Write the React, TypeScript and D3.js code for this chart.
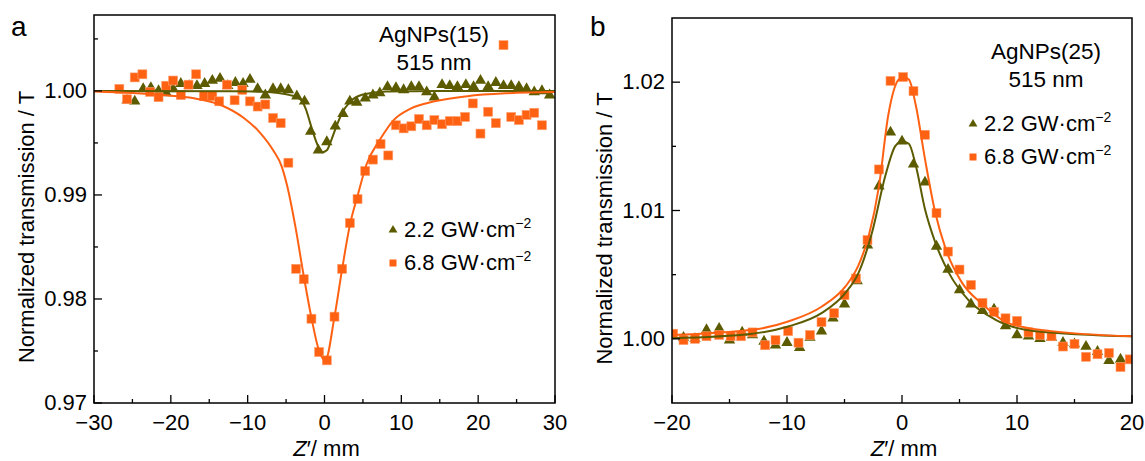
import React from "react";
import * as d3 from "d3";

const OLIVE = "#5c5b00";
const ORANGE = "#ff6112";
const FONT = "'Liberation Sans', Arial, sans-serif";

// ---- panel a : AgNPs(15), 515 nm ----
const a22: [number, number][] = [
  [-25.7, 0.9991], [-24.7, 0.999], [-23.6, 1.0002], [-22.6, 1.0003], [-21.6, 1.0], [-20.6, 0.9998],
  [-19.7, 1.0002], [-18.7, 1.0007], [-17.6, 1.0005], [-16.6, 1.0005], [-15.6, 1.0007], [-14.6, 1.001],
  [-13.6, 1.0012], [-12.6, 1.0005], [-11.6, 1.0008], [-10.6, 1.0007], [-9.7, 1.0011], [-8.7, 1.0002],
  [-7.7, 0.9996], [-6.7, 1.0002], [-5.7, 1.0002], [-4.7, 1.0001], [-3.6, 0.9995], [-2.6, 0.999],
  [-1.8, 0.9961], [-0.8, 0.9943], [0.3, 0.9951], [1.4, 0.9966], [2.4, 0.9978], [3.3, 0.999],
  [4.2, 0.9989], [5.3, 0.9993], [6.3, 0.9996], [7.2, 0.9998], [8.2, 1.0004], [9.3, 1.0003],
  [10.3, 1.0001], [11.3, 1.0004], [12.3, 1.0004], [13.3, 0.9999], [14.3, 0.9994], [15.3, 1.0006],
  [16.3, 1.0005], [17.3, 1.0004], [18.4, 1.0006], [19.4, 1.0004], [20.3, 1.001], [21.3, 1.0004],
  [22.3, 1.0008], [23.3, 1.0005], [24.3, 1.0005], [25.3, 1.0004], [26.3, 1.0002], [27.3, 0.9999],
  [28.3, 1.0], [29.3, 0.9996],
];
const a68: [number, number][] = [
  [-26.7, 1.0002], [-25.7, 0.9992], [-24.7, 1.0013], [-23.7, 1.0016], [-22.7, 0.9999], [-21.6, 0.9994],
  [-20.6, 1.0005], [-19.7, 1.001], [-18.7, 0.9996], [-17.7, 1.0006], [-16.7, 1.0016], [-15.7, 0.9995],
  [-14.6, 0.9995], [-13.7, 0.999], [-12.7, 1.0006], [-11.7, 0.9991], [-10.7, 1.0001], [-9.7, 0.999],
  [-8.7, 0.9985], [-7.7, 0.9987], [-6.7, 0.9974], [-5.7, 0.9969], [-4.7, 0.9931], [-3.7, 0.9829],
  [-2.7, 0.9819], [-1.7, 0.9781], [-0.7, 0.9749], [0.3, 0.9741], [1.3, 0.9783], [2.3, 0.9829],
  [3.3, 0.9873], [4.3, 0.9896], [5.3, 0.9923], [6.3, 0.9934], [7.3, 0.9949], [8.3, 0.9938],
  [9.3, 0.9967], [10.3, 0.9964], [11.3, 0.9966], [12.3, 0.9973], [13.3, 0.9967], [14.3, 0.9972],
  [15.3, 0.9968], [16.3, 0.9971], [17.3, 0.9971], [18.3, 0.9975], [19.3, 0.9988], [20.3, 0.9959],
  [21.3, 0.998], [22.3, 0.9969], [23.3, 1.0044], [24.3, 0.9975], [25.3, 0.9972], [26.3, 0.9977],
  [27.3, 0.9979], [28.3, 0.9967],
];
const a22Fit: [number, number][] = [
  [-30, 1.0], [-12, 0.99998], [-8, 0.99992], [-6, 0.9998], [-4.5, 0.9996], [-3.6, 0.9994],
  [-2.9, 0.999], [-2.4, 0.9982], [-1.9, 0.997], [-1.4, 0.9958], [-0.9, 0.9948], [-0.3, 0.9941],
  [0.3, 0.9943], [0.9, 0.9953], [1.5, 0.9965], [2.3, 0.9979], [3.4, 0.999], [5, 0.99965],
  [8, 0.99995], [15, 1.0], [30, 1.0],
];
const a68Fit: [number, number][] = [
  [-30, 0.99995], [-25, 0.9998], [-21, 0.9996], [-17, 0.9993], [-13.5, 0.99865], [-10.5, 0.9974],
  [-8.4, 0.996], [-6.6, 0.9942], [-5.6, 0.9928], [-4.9, 0.991], [-3.8, 0.987], [-2.7, 0.9822],
  [-1.7, 0.9782], [-0.7, 0.975], [0.1, 0.9741], [1.3, 0.9783], [2.3, 0.9829], [3.3, 0.9871],
  [4.3, 0.9899], [5.5, 0.993], [7.2, 0.9953], [9.0, 0.9972], [11.2, 0.9983], [14.3, 0.999],
  [18.6, 0.9995], [23.8, 0.99978], [30, 0.9999],
];

// ---- panel b : AgNPs(25), 515 nm ----
const b22: [number, number][] = [
  [-19.0, 1.0001], [-18.0, 1.0], [-17.0, 1.0007], [-15.9, 1.0008], [-15.0, 0.9999], [-13.9, 1.0005],
  [-13.0, 1.0003], [-12.0, 0.9998], [-11.0, 0.9995], [-10.0, 0.9997], [-8.9, 0.9993], [-8.0, 1.0001],
  [-7.0, 1.0006], [-6.0, 1.0016], [-5.0, 1.0027], [-3.9, 1.0045], [-3.0, 1.0073], [-2.0, 1.0119],
  [-1.0, 1.0161], [0.0, 1.0154], [1.0, 1.0136], [2.0, 1.0122], [3.0, 1.0072], [4.0, 1.0054],
  [5.0, 1.0038], [6.0, 1.0027], [7.0, 1.0022], [8.0, 1.0023], [9.0, 1.001], [10.0, 1.0003],
  [11.0, 1.0002], [12.0, 1.0], [13.0, 1.0001], [14.0, 0.9997], [15.0, 0.9996], [16.0, 0.9994],
  [17.0, 0.999], [18.0, 0.9983], [19.0, 0.9984],
];
const b68: [number, number][] = [
  [-19.9, 1.0004], [-19.0, 0.9999], [-18.0, 1.0], [-17.0, 1.0002], [-15.9, 1.0003], [-14.9, 1.0002],
  [-14.0, 1.0002], [-13.0, 1.0005], [-11.9, 0.9995], [-11.0, 0.9999], [-9.9, 1.0006], [-9.0, 0.9997],
  [-8.0, 1.0003], [-7.0, 1.0013], [-5.9, 1.002], [-5.0, 1.0034], [-4.0, 1.0047], [-3.0, 1.0077],
  [-2.0, 1.0132], [-1.0, 1.0201], [0.1, 1.0204], [1.0, 1.0193], [2.0, 1.0159], [3.0, 1.0098],
  [4.0, 1.0068], [5.0, 1.0054], [6.0, 1.0042], [7.0, 1.0028], [8.0, 1.0021], [9.0, 1.0016],
  [10.0, 1.0014], [11.0, 1.0005], [12.0, 1.0003], [13.0, 1.0002], [14.0, 0.9994], [15.0, 0.9996],
  [16.0, 0.9986], [17.0, 0.9988], [18.0, 0.9989], [19.0, 0.9978], [19.8, 0.9984],
];
const b22Fit: [number, number][] = [
  [-20, 1.00005], [-13, 1.0004], [-9.9, 1.00096], [-7, 1.002], [-4.9, 1.0036], [-3.8, 1.0051],
  [-2.6, 1.0083], [-1.45, 1.0127], [-0.6, 1.015], [0, 1.0154], [0.6, 1.0152], [1.2, 1.0135],
  [2.0, 1.0101], [2.9, 1.0075], [4.1, 1.0051], [5.8, 1.003], [8.1, 1.0015], [11.6, 1.0006], [20, 1.0002],
];
const b68Fit: [number, number][] = [
  [-20, 1.0003], [-13, 1.0007], [-9.9, 1.00135], [-7, 1.0025], [-4.9, 1.0041], [-3.8, 1.0057],
  [-2.9, 1.008], [-2.0, 1.0119], [-1.2, 1.0174], [-0.3, 1.0202], [0.1, 1.0204], [0.6, 1.0202],
  [1.2, 1.0182], [2.0, 1.014], [2.9, 1.0098], [3.8, 1.007], [5.2, 1.0044], [7.0, 1.0027],
  [9.3, 1.0012], [13, 1.0006], [20, 1.0002],
];

const aXMajor = [-30, -20, -10, 0, 10, 20, 30];
const aXMinor = [-25, -15, -5, 5, 15, 25];
const aYMajor = [0.97, 0.98, 0.99, 1.0];
const aYMinor = [0.975, 0.985, 0.995, 1.005];
const bXMajor = [-20, -10, 0, 10, 20];
const bXMinor = [-15, -5, 5, 15];
const bYMajor = [1.0, 1.01, 1.02];
const bYMinor = [1.005, 1.015];

const legendLabels = ["2.2 GW\u00b7cm", "6.8 GW\u00b7cm"];

const fmtX = (v: number) => (v < 0 ? "\u2212" + Math.abs(v) : String(v));

type PanelProps = {
  letter: string;
  letterX: number;
  x: d3.ScaleLinear<number, number>;
  y: d3.ScaleLinear<number, number>;
  xMajor: number[];
  xMinor: number[];
  yMajor: number[];
  yMinor: number[];
  tri: [number, number][];
  sq: [number, number][];
  triFit: [number, number][];
  sqFit: [number, number][];
  title: string;
  titleX: number;
  titleY: number;
  legX: number;
  legY: number;
};

function Panel(p: PanelProps) {
  const [x0, x1] = p.x.range();
  const [y0, y1] = p.y.range();
  const tri = d3.symbol().type(d3.symbolTriangle).size(56)()!;
  const triSmall = d3.symbol().type(d3.symbolTriangle).size(34)()!;
  const line = d3
    .line<[number, number]>()
    .x((d) => p.x(d[0]))
    .y((d) => p.y(d[1]))
    .curve(d3.curveMonotoneX);
  const sqS = 9;
  return (
    <g fontFamily={FONT} fill="#000">
      <text x={p.letterX} y={36} fontSize={28}>{p.letter}</text>
      <clipPath id={"clip" + p.letter}>
        <rect x={x0} y={y1} width={x1 - x0} height={y0 - y1} />
      </clipPath>
      <g clipPath={`url(#clip${p.letter})`}>
        {p.tri.map((d, i) => (
          <path key={"t" + i} d={tri} transform={`translate(${p.x(d[0])},${p.y(d[1])})`} fill={OLIVE} />
        ))}
        {p.sq.map((d, i) => (
          <rect key={"s" + i} x={p.x(d[0]) - sqS / 2} y={p.y(d[1]) - sqS / 2} width={sqS} height={sqS}
            fill={ORANGE} stroke="#ffa070" strokeWidth={0.6} />
        ))}
        <path d={line(p.triFit)!} fill="none" stroke={OLIVE} strokeWidth={2} />
        <path d={line(p.sqFit)!} fill="none" stroke={ORANGE} strokeWidth={2} />
      </g>
      <rect x={x0} y={y1} width={x1 - x0} height={y0 - y1} fill="none" stroke="#000" strokeWidth={1.5} />
      {p.xMajor.map((v) => (
        <g key={"xm" + v}>
          <line x1={p.x(v)} x2={p.x(v)} y1={y0} y2={y0 - 8} stroke="#000" strokeWidth={1.3} />
          <text x={p.x(v)} y={y0 + 27} fontSize={22} textAnchor="middle">{fmtX(v)}</text>
        </g>
      ))}
      {p.xMinor.map((v) => (
        <line key={"xn" + v} x1={p.x(v)} x2={p.x(v)} y1={y0} y2={y0 - 4} stroke="#000" strokeWidth={1.3} />
      ))}
      {p.yMajor.map((v) => (
        <g key={"ym" + v}>
          <line x1={x0} x2={x0 + 8} y1={p.y(v)} y2={p.y(v)} stroke="#000" strokeWidth={1.3} />
          <text x={x0 - 7} y={p.y(v) + 7} fontSize={22} textAnchor="end">{v.toFixed(2)}</text>
        </g>
      ))}
      {p.yMinor.map((v) => (
        <line key={"yn" + v} x1={x0} x2={x0 + 4} y1={p.y(v)} y2={p.y(v)} stroke="#000" strokeWidth={1.3} />
      ))}
      <text transform={`translate(${x0 - 60},${(y0 + y1) / 2 + 18}) rotate(-90)`} fontSize={22} textAnchor="middle">
        Normalized transmission / T
      </text>
      <text x={(x0 + x1) / 2 + 2} y={456} fontSize={22} textAnchor="middle">
        <tspan fontStyle="italic">Z</tspan>
        <tspan>{"\u2032/ mm"}</tspan>
      </text>
      <text x={p.titleX} y={p.titleY} fontSize={22.5} textAnchor="middle">{p.title}</text>
      <text x={p.titleX} y={p.titleY + 28} fontSize={22.5} textAnchor="middle">515 nm</text>
      <path d={triSmall} transform={`translate(${p.legX},${p.legY - 7})`} fill={OLIVE} />
      <rect x={p.legX - 3.5} y={p.legY + 33 - 10.5} width={7} height={7} fill={ORANGE} />
      {legendLabels.map((s, i) => (
        <text key={s} x={p.legX + 11} y={p.legY + i * 33} fontSize={22}>
          {s}
          <tspan fontSize={14} dy={-9}>{"\u22122"}</tspan>
        </text>
      ))}
    </g>
  );
}

export default function App() {
  const ax = d3.scaleLinear([-30, 30], [94, 555]);
  const ay = d3.scaleLinear([0.97, 1.0073], [403, 15]);
  const bx = d3.scaleLinear([-20, 20], [672, 1132]);
  const by = d3.scaleLinear([0.995, 1.025], [403, 18]);
  return (
    <svg width={1145} height={461} style={{ position: "absolute", left: 0, top: 0, background: "#fff" }}>
      <Panel letter="a" letterX={11} x={ax} y={ay} xMajor={aXMajor} xMinor={aXMinor} yMajor={aYMajor}
        yMinor={aYMinor} tri={a22} sq={a68} triFit={a22Fit} sqFit={a68Fit} title="AgNPs(15)"
        titleX={434} titleY={42} legX={393} legY={237} />
      <Panel letter="b" letterX={590} x={bx} y={by} xMajor={bXMajor} xMinor={bXMinor} yMajor={bYMajor}
        yMinor={bYMinor} tri={b22} sq={b68} triFit={b22Fit} sqFit={b68Fit} title="AgNPs(25)"
        titleX={1046} titleY={59} legX={973} legY={131} />
    </svg>
  );
}
